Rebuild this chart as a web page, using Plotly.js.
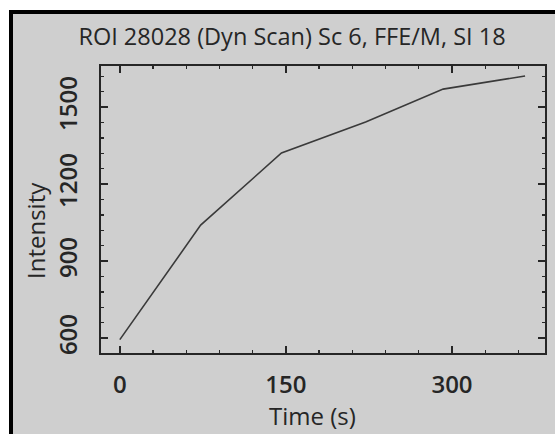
<!DOCTYPE html>
<html>
<head>
<meta charset="utf-8">
<script src="https://cdn.plot.ly/plotly-3.0.1.min.js"></script>
<style>
html,body{margin:0;padding:0;background:#cfcfcf;overflow:hidden;width:100%;height:100%;}
#chart{position:absolute;left:0;top:0;width:555px;height:434px;}
</style>
</head>
<body>
<div id="chart"></div>
<script>
const timeSec = [0, 73, 146, 222, 292, 366];
const intensity = [594, 1040, 1321, 1442, 1570, 1621];
const xTickVals = [0, 150, 300];
const yTickVals = [600, 900, 1200, 1500];
const chartTitle = "ROI 28028 (Dyn Scan) Sc 6, FFE/M, SI 18";
const xTitle = "Time (s)";
const yTitle = "Intensity";

const ink = "#262626";
const fontFam = "'Open Sans', 'Noto Sans', sans-serif";
const W = 555, H = 434;
const L = 101, R = 545, T = 66, B = 353;
const pw = R - L, ph = B - T;
const px = v => (v - L) / pw;
const py = v => (B - v) / ph;

const trace = {
  x: timeSec, y: intensity, type: "scatter", mode: "lines",
  line: {color: "#3a3a3a", width: 1.6},
  hoverinfo: "skip"
};

const layout = {
  width: W, height: H,
  paper_bgcolor: "#ffffff", plot_bgcolor: "#d3d3d3",
  margin: {l: L, r: W - R, t: T, b: H - B},
  showlegend: false,
  font: {family: fontFam, color: ink},
  title: {
    text: chartTitle, xref: "container", yref: "container",
    x: 292 / W, xanchor: "center", y: 1 - 37 / H, yanchor: "middle",
    font: {size: 23.5, color: ink, family: fontFam}
  },
  xaxis: {
    range: [-17, 384], tickvals: xTickVals, ticktext: xTickVals.map(String),
    ticks: "inside", ticklen: 7, tickwidth: 1.5, tickcolor: ink,
    minor: {dtick: 30, tick0: 0, ticks: "inside", ticklen: 3, tickwidth: 1.3, tickcolor: ink},
    showline: true, linecolor: ink, linewidth: 1.6, mirror: "allticks",
    showgrid: false, zeroline: false,
    tickfont: {size: 24, color: ink, family: fontFam, weight: 600},
    ticklabelstandoff: 10
  },
  yaxis: {
    range: [542, 1660], tickvals: yTickVals, ticktext: yTickVals.map(String),
    ticks: "inside", ticklen: 7, tickwidth: 1.5, tickcolor: ink,
    minor: {dtick: 60, tick0: 600, ticks: "inside", ticklen: 3, tickwidth: 1.3, tickcolor: ink},
    showline: true, linecolor: ink, linewidth: 1.6, mirror: "allticks",
    showgrid: false, zeroline: false, tickangle: -90,
    tickfont: {size: 24, color: ink, family: fontFam, weight: 600},
    ticklabelstandoff: 13
  },
  shapes: [
    {type: "rect", xref: "paper", yref: "paper", layer: "below",
     x0: px(9), x1: px(W + 2), y0: py(H + 2), y1: py(10),
     fillcolor: "#000000", line: {width: 0}},
    {type: "rect", xref: "paper", yref: "paper", layer: "below",
     x0: px(13), x1: px(W + 2), y0: py(H + 2), y1: py(14),
     fillcolor: "#cfcfcf", line: {width: 0}}
  ],
  annotations: [
    {text: xTitle, xref: "paper", yref: "paper", x: px(312), y: py(415),
     xanchor: "center", yanchor: "middle", showarrow: false,
     font: {size: 24, color: ink, family: fontFam}},
    {text: yTitle, xref: "paper", yref: "paper", x: px(36), y: py(231),
     xanchor: "center", yanchor: "middle", textangle: -90, showarrow: false,
     font: {size: 24, color: ink, family: fontFam}}
  ]
};

Plotly.newPlot("chart", [trace], layout, {displayModeBar: false, staticPlot: true});
</script>
</body>
</html>
